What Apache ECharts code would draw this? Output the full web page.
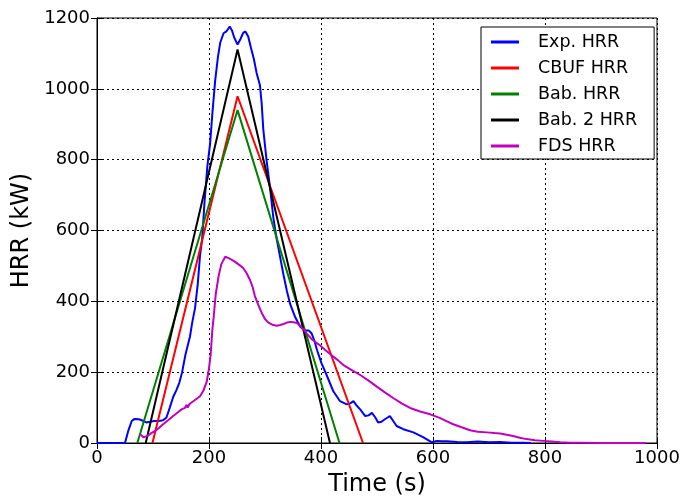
<!DOCTYPE html>
<html>
<head>
<meta charset="utf-8">
<script src="https://cdn.jsdelivr.net/npm/echarts@6/dist/echarts.min.js"></script>
<style>html,body{margin:0;padding:0;background:#fff}#c{width:685px;height:502px}</style>
</head>
<body>
<div id="c"></div>
<script>
var seriesNames = ['Exp. HRR', 'CBUF HRR', 'Bab. HRR', 'Bab. 2 HRR', 'FDS HRR'];
var xTicks = [0, 200, 400, 600, 800, 1000];
var yTicks = [0, 200, 400, 600, 800, 1000, 1200];

var expT = [0,50,56,62,67,75,82,88,95,102,110,118,124,130,136,142,147,152,158,162,166,170,175,180,184,188,192,197,202,206,211,216,220,226,231,237,241,245,251,256,261,265,270,275,280,285,291,294,297,300,303,309,315,321,327,333,339,345,354,363,371,378,383,388,393,401,410,422,434,446,452,458,464,470,479,485,491,497,502,508,514,519,523,529,535,547,565,583,598,607,616,625,643,660,680,700,720,740,760,775];
var expV = [0,0,35,62,68,67,63,58,60,62,62,64,72,100,130,150,170,200,250,275,300,340,380,450,530,580,680,780,846,930,1023,1090,1130,1157,1162,1176,1165,1145,1125,1140,1158,1162,1148,1115,1085,1045,1010,960,885,840,795,721,635,575,525,475,430,392,355,328,318,318,310,290,262,225,192,146,118,109,112,118,105,95,76,78,85,72,58,60,67,72,76,62,48,39,30,16,2,6,5,5,3,2,4,2,3,1,1,0];

var cbufT = [99, 251, 475];
var cbufV = [0, 979, 0];

var babT = [72, 251, 433];
var babV = [0, 940, 0];

var bab2T = [87, 251, 416];
var bab2V = [0, 1111, 0];

var fdsT = [77,83,90,97,104,111,118,127,136,144,151,157,160,162,165,172,178,184,190,196,200,203,206,208,212,217,222,229,235,240,246,254,261,267,273,278,282,288,294,300,306,313,321,327,333,339,345,351,357,362,368,375,383,390,398,408,419,430,440,455,470,485,499,514,529,544,559,577,595,612,624,636,650,666,680,696,710,720,743,755,767,782,797,812,827,845,863,900,940,980];
var fdsV = [25,16,20,28,34,43,53,64,76,86,95,99,108,100,110,118,125,132,148,173,211,250,320,350,420,470,505,526,522,518,512,503,494,480,461,440,415,390,368,350,340,334,331,333,336,340,342,341,339,332,322,308,294,285,276,262,248,234,220,206,192,176,160,143,127,112,99,89,81,71,62,53,45,36,32,30,28,27,20,15,11,8,6,4,2,1,1,0,0,0];

var colors = ['#0000ff', '#ff0000', '#008000', '#000000', '#bf00bf'];

function pairs(t, v) { return t.map(function (x, i) { return [x, v[i]]; }); }
var allT = [expT, cbufT, babT, bab2T, fdsT];
var allV = [expV, cbufV, babV, bab2V, fdsV];

var FONT = 'DejaVu Sans';
var chart = echarts.init(document.getElementById('c'), null, {renderer: 'canvas'});

var axisCommon = {
  type: 'value',
  axisLine: {show: true, lineStyle: {color: '#000', width: 1}},
  axisTick: {show: true, inside: true, length: 6, lineStyle: {color: '#000'}},
};
function plain(v) { return String(v); }

chart.setOption({
  backgroundColor: '#fff',
  animation: false,
  grid: {left: 97, right: 28, top: 18, bottom: 53, show: true, borderColor: '#000', borderWidth: 1, containLabel: false},
  xAxis: [
    Object.assign({}, axisCommon, {
      min: xTicks[0], max: xTicks[xTicks.length - 1], interval: 200,
      position: 'bottom',
      name: 'Time (s)', nameLocation: 'middle', nameGap: 30,
      nameTextStyle: {fontFamily: FONT, fontSize: 24, color: '#000'},
      axisLabel: {fontFamily: FONT, fontSize: 18, color: '#000', margin: 6, formatter: plain},
      splitLine: {show: true, lineStyle: {color: '#000', type: [2, 3], width: 1}}
    }),
    Object.assign({}, axisCommon, {
      min: xTicks[0], max: xTicks[xTicks.length - 1], interval: 200,
      position: 'top', axisLabel: {show: false}, splitLine: {show: false}
    })
  ],
  yAxis: [
    Object.assign({}, axisCommon, {
      min: yTicks[0], max: yTicks[yTicks.length - 1], interval: 200,
      position: 'left',
      name: 'HRR (kW)', nameLocation: 'middle', nameGap: 42, nameRotate: 90,
      nameTextStyle: {fontFamily: FONT, fontSize: 24, color: '#000'},
      axisLabel: {fontFamily: FONT, fontSize: 18, color: '#000', margin: 7, formatter: plain},
      splitLine: {show: true, lineStyle: {color: '#000', type: [2, 3], width: 1}}
    }),
    Object.assign({}, axisCommon, {
      min: yTicks[0], max: yTicks[yTicks.length - 1], interval: 200,
      position: 'right', axisLabel: {show: false}, splitLine: {show: false}
    })
  ],
  legend: {
    orient: 'vertical',
    left: 481, top: 27,
    padding: [5, 17, 3, 10],
    itemGap: 6,
    itemWidth: 28, itemHeight: 3,
    icon: 'rect',
    backgroundColor: '#fff',
    borderColor: '#000', borderWidth: 1,
    textStyle: {fontFamily: FONT, fontSize: 17.5, color: '#000', lineHeight: 20, padding: [0, 0, 0, 14]},
    data: seriesNames
  },
  series: seriesNames.map(function (n, i) {
    return {
      name: n, type: 'line', xAxisIndex: 0, yAxisIndex: 0,
      data: pairs(allT[i], allV[i]),
      symbol: 'none', showSymbol: false,
      lineStyle: {color: colors[i], width: 2},
      itemStyle: {color: colors[i]},
      clip: true
    };
  })
});
</script>
</body>
</html>
